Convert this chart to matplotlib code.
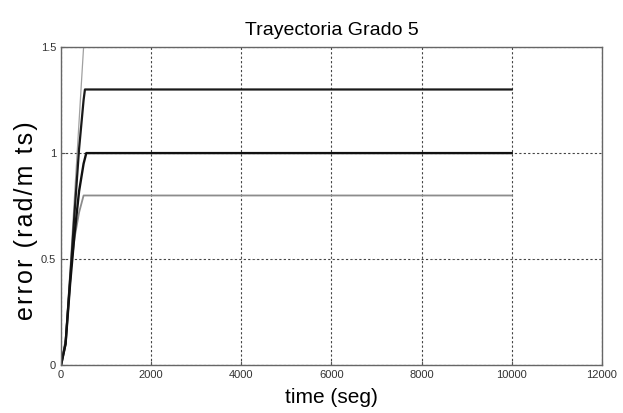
import numpy as np
import matplotlib
matplotlib.use("Agg")
import matplotlib.pyplot as plt

plt.rcParams['font.family'] = ['Liberation Sans', 'DejaVu Sans']

# tiempos y valores
t_a = [0, 100, 200, 300, 400, 500, 560, 10000]
e_a = [0, 0.12, 0.45, 0.8, 1.15, 1.5, 1.6, 1.6]

t_b = [0, 100, 200, 300, 400, 500, 530, 10000]
e_b = [0, 0.10, 0.40, 0.72, 1.02, 1.25, 1.3, 1.3]

t_c = [0, 100, 200, 300, 400, 500, 560, 10000]
e_c = [0, 0.10, 0.38, 0.62, 0.82, 0.95, 1.0, 1.0]

t_d = [0, 100, 200, 300, 400, 500, 10000]
e_d = [0, 0.12, 0.42, 0.60, 0.72, 0.80, 0.80]

xticks = [0, 2000, 4000, 6000, 8000, 10000, 12000]
yticks = [0, 0.5, 1, 1.5]

fig = plt.figure(figsize=(6.23, 4.13), dpi=100)
ax = fig.add_axes([0.098, 0.116, 0.868, 0.77])

ax.plot(t_a, e_a, color='#a0a0a0', lw=0.9)
ax.plot(t_d, e_d, color='#8c8c8c', lw=1.3)
ax.plot(t_b, e_b, color='#1a1a1a', lw=1.6)
ax.plot(t_c, e_c, color='#111111', lw=1.7)

ax.set_xlim(0, 12000)
ax.set_ylim(0, 1.5)
ax.set_xticks(xticks)
ax.set_yticks(yticks)
ax.set_xticklabels([str(v) for v in xticks])
ax.set_yticklabels(['0', '0.5', '1', '1.5'])
ax.tick_params(direction='in', labelsize=8, length=3, colors='#555555', labelcolor='#333333')
ax.grid(True, linestyle=(0, (2, 2)), color='#444444', lw=0.8)
for s in ax.spines.values():
    s.set_color('#666666')
    s.set_linewidth(1.0)

ax.set_title('Trayectoria Grado 5', fontsize=14, pad=9)
ax.set_xlabel('time (seg)', fontsize=15, labelpad=6)
ax.set_ylabel('\u200a'.join('error (rad/m ts)'), fontsize=18)
ax.yaxis.set_label_coords(-0.042, 0.455)

fig.savefig('out.png', dpi=100)
